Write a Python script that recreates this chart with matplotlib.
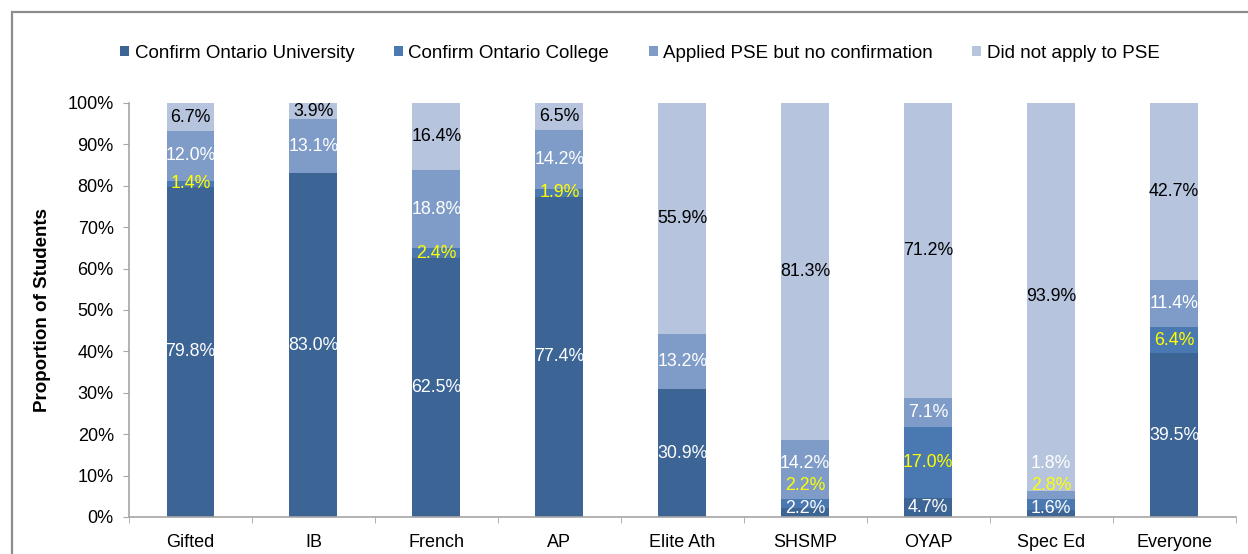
import matplotlib
matplotlib.use('Agg')
import matplotlib.pyplot as plt
from matplotlib.patches import Rectangle
from matplotlib.ticker import FixedLocator, PercentFormatter
import numpy as np

plt.rcParams['font.family'] = ['Liberation Sans', 'DejaVu Sans']

# Data (percent of students)
categories = ['Gifted', 'IB', 'French', 'AP', 'Elite Ath', 'SHSMP', 'OYAP', 'Spec Ed', 'Everyone']
series_names = ['Confirm Ontario University', 'Confirm Ontario College',
                'Applied PSE but no confirmation', 'Did not apply to PSE']
university = [79.8, 83.0, 62.5, 77.4, 30.9, 2.2, 4.7, 1.6, 39.5]
college = [1.4, 0.0, 2.4, 1.9, 0.0, 2.2, 17.0, 2.8, 6.4]
applied = [12.0, 13.1, 18.8, 14.2, 13.2, 14.2, 7.1, 1.8, 11.4]
not_applied = [6.7, 3.9, 16.4, 6.5, 55.9, 81.3, 71.2, 93.9, 42.7]

colors = ['#3C6494', '#4A78B0', '#7F9CC8', '#B6C4DE']
label_colors = ['white', '#FFFF00', 'white', 'black']

fig = plt.figure(figsize=(12.48, 5.54), dpi=100)
ax = fig.add_axes([0.1034, 0.0668, 0.8866, 0.7473])

# Outer frame like the exported chart area
fig.patches.append(Rectangle((12 / 1248, -0.1), 1.2, 1.1 - 12 / 554,
                             transform=fig.transFigure, fill=False,
                             edgecolor='#8C8C8C', linewidth=1.6))

x = np.arange(len(categories))
width = 0.39
series = [university, college, applied, not_applied]
bottom = np.zeros(len(categories))
for vals, name, col in zip(series, series_names, colors):
    ax.bar(x, vals, width, bottom=bottom, color=col, label=name,
           edgecolor='none')
    bottom += np.array(vals)

# Data labels, centred in segments, nudged up when crowded
min_gap = 5.5
for i in range(len(categories)):
    base = 0.0
    last_y = -100.0
    for vals, lc in zip(series, label_colors):
        v = vals[i]
        if v > 0:
            y = max(base + v / 2, 2.0, last_y + min_gap)
            ax.text(x[i], y, f'{v:.1f}%', ha='center', va='center',
                    color=lc, fontsize=12.8)
            last_y = y
        base += v

ax.set_xlim(-0.5, len(categories) - 0.5)
ax.set_ylim(0, 100)
ax.yaxis.set_major_locator(FixedLocator(np.arange(0, 101, 10)))
ax.yaxis.set_major_formatter(PercentFormatter(decimals=0))
ax.set_xticks(x)
ax.set_xticklabels(categories)
ax.xaxis.set_minor_locator(FixedLocator(np.arange(-0.5, len(categories), 1)))
ax.tick_params(axis='x', which='major', length=0, pad=12, labelsize=13)
ax.tick_params(axis='x', which='minor', length=4, color='#A6A6A6')
ax.tick_params(axis='y', length=4, color='#A6A6A6', labelsize=13, pad=7)

for side in ['top', 'right']:
    ax.spines[side].set_visible(False)
ax.spines['left'].set_color('#A6A6A6')
ax.spines['bottom'].set_color('#A6A6A6')
ax.spines['left'].set_linewidth(1.2)
ax.spines['bottom'].set_linewidth(1.2)

ax.set_ylabel('Proportion of Students', fontsize=13.5, fontweight='bold', labelpad=12)

ax.legend(loc='center', ncol=4, frameon=False, fontsize=13.5, handlelength=0.48,
          handleheight=0.48, handletextpad=0.3, columnspacing=2.1)
leg = ax.get_legend()
leg.set_bbox_to_anchor((640 / 1248, 1 - 53 / 554), transform=fig.transFigure)

fig.savefig('out.png', dpi=100)
